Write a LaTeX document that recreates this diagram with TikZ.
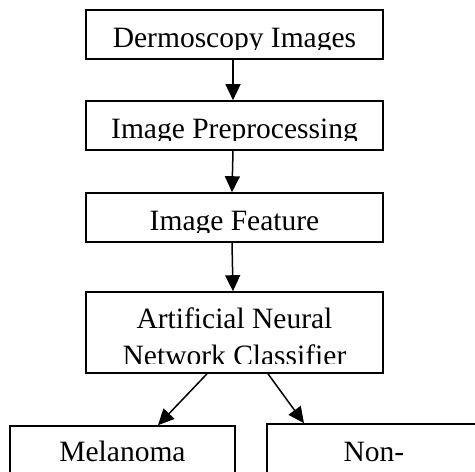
\documentclass[tikz,border=0pt]{standalone}
\usepackage{fontspec}
\setmainfont{Liberation Serif}
\usetikzlibrary{arrows.meta}

\begin{document}
\begin{tikzpicture}[x=1pt, y=-1pt,
        fleche/.style={-{Triangle[length=16pt, width=15pt]}, line width=1.5pt}]
        \tikzset{boite/.style={rectangle, draw=black, line width=1.6pt, inner sep=0pt, minimum width=297pt, minimum height=49pt}};
        \tikzset{texte/.style={anchor=base, inner sep=0pt, font=\fontsize{29.5}{37}\selectfont}};
        \clip (0,0) rectangle (475,472);

        \node[boite] (img) at (234.5, 34.5) {};
        \node[boite] (pre) at (234.5, 125.5) {};
        \node[boite] (feat) at (234.5, 217.5) {};
        \node[boite, minimum height=81pt] (ann) at (234.5, 332.5) {};
        \node[boite, minimum width=225pt, minimum height=80pt] (mel) at (122.5, 466) {};
        \node[boite, minimum width=214pt, minimum height=80pt] (non) at (374, 464) {};

        % texte coupe en bas de chaque boite
        \begin{scope}
            \clip (img.north west) rectangle ([yshift=10.5pt]img.south east);
            \node[texte] (img-t) at ([yshift=-38pt]img.north) {Dermoscopy Images};
        \end{scope}
        \begin{scope}
            \clip (pre.north west) rectangle ([yshift=10.5pt]pre.south east);
            \node[texte] (pre-t) at ([yshift=-38pt]pre.north) {Image Preprocessing};
        \end{scope}
        \begin{scope}
            \clip (feat.north west) rectangle ([yshift=10.5pt]feat.south east);
            \node[texte] (feat-t) at ([yshift=-38pt]feat.north) {Image Feature};
        \end{scope}
        \begin{scope}
            \clip (ann.north west) rectangle ([yshift=10.5pt]ann.south east);
            \node[texte] (ann-t1) at ([yshift=-37pt]ann.north) {Artificial Neural};
            \node[texte] (ann-t2) at ([yshift=-74pt]ann.north) {Network Classifier};
        \end{scope}
        \node[texte] (mel-t) at ([yshift=-36pt]mel.north) {Melanoma};
        \node[texte] (non-t) at ([yshift=-38pt]non.north) {Non-};

        \draw[fleche] ([xshift=-1.5pt]img.south) -- ([xshift=-1.5pt]pre.north);
        \draw[fleche] ([xshift=-1.5pt]pre.south) -- ([xshift=-2.5pt]feat.north);
        \draw[fleche] ([xshift=-2.5pt]feat.south) -- ([xshift=-1.5pt]ann.north);
        \draw[fleche] ([xshift=-27.5pt]ann.south) -- ([xshift=35.5pt]mel.north);
        \draw[fleche] ([xshift=33.5pt]ann.south) -- ([xshift=-70pt]non.north);
    \end{tikzpicture}
\end{document}
